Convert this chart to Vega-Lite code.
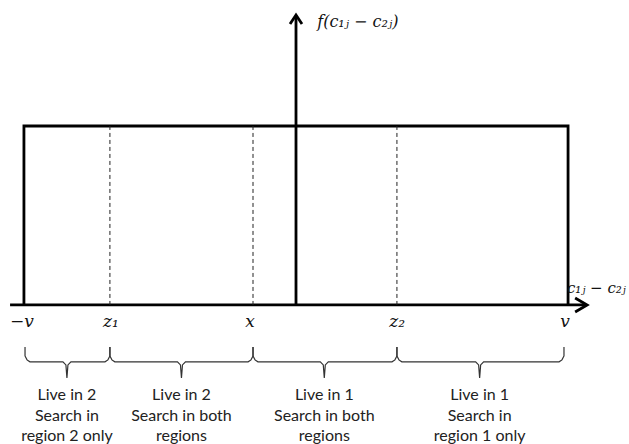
{
  "$schema": "https://vega.github.io/schema/vega-lite/v6.json",
  "width": 629,
  "height": 444,
  "padding": 0,
  "autosize": {"type": "none"},
  "background": "white",
  "config": {"view": {"stroke": null}},
  "encoding": {
    "x": {"field": "x", "type": "quantitative", "scale": {"domain": [-1.088, 1.224], "nice": false, "zero": false}, "axis": null},
    "y": {"field": "y", "type": "quantitative", "scale": {"domain": [-0.777, 1.704], "nice": false, "zero": false}, "axis": null}
  },
  "layer": [
    {
      "data": {"values": [
        {"g": "haxis", "o": 1, "x": -1.051, "y": 0},
        {"g": "haxis", "o": 2, "x": 1.066, "y": 0},
        {"g": "harrow", "o": 1, "x": 1.026, "y": 0.039},
        {"g": "harrow", "o": 2, "x": 1.070, "y": 0},
        {"g": "harrow", "o": 3, "x": 1.026, "y": -0.039},
        {"g": "vaxis", "o": 1, "x": 0, "y": 0},
        {"g": "vaxis", "o": 2, "x": 0, "y": 1.612},
        {"g": "varrow", "o": 1, "x": -0.022, "y": 1.570},
        {"g": "varrow", "o": 2, "x": 0, "y": 1.620},
        {"g": "varrow", "o": 3, "x": 0.022, "y": 1.570},
        {"g": "rect", "o": 1, "x": -1, "y": 0},
        {"g": "rect", "o": 2, "x": -1, "y": 1},
        {"g": "rect", "o": 3, "x": 1, "y": 1},
        {"g": "rect", "o": 4, "x": 1, "y": 0}
      ]},
      "mark": {"type": "line", "color": "black", "strokeWidth": 2.8, "strokeJoin": "miter"},
      "encoding": {
        "detail": {"field": "g", "type": "nominal"},
        "order": {"field": "o", "type": "quantitative"}
      }
    },
    {
      "data": {"values": [
        {"x": -0.684, "y": 0, "y2": 1},
        {"x": -0.158, "y": 0, "y2": 1},
        {"x": 0.371, "y": 0, "y2": 1}
      ]},
      "mark": {"type": "rule", "color": "#222", "strokeWidth": 1, "strokeDash": [4, 3]},
      "encoding": {"y2": {"field": "y2"}}
    },
    {
      "data": {"values": [
        {"g": 1, "o": 1, "x": -0.996, "y": -0.235},
        {"g": 1, "o": 2, "x": -0.996, "y": -0.285},
        {"g": 1, "o": 3, "x": -0.9886, "y": -0.307},
        {"g": 1, "o": 4, "x": -0.978, "y": -0.318},
        {"g": 1, "o": 5, "x": -0.8567, "y": -0.318},
        {"g": 1, "o": 6, "x": -0.8457, "y": -0.335},
        {"g": 1, "o": 7, "x": -0.842, "y": -0.408},
        {"g": 1, "o": 8, "x": -0.8383, "y": -0.335},
        {"g": 1, "o": 9, "x": -0.8273, "y": -0.318},
        {"g": 1, "o": 10, "x": -0.702, "y": -0.318},
        {"g": 1, "o": 11, "x": -0.6914, "y": -0.307},
        {"g": 1, "o": 12, "x": -0.684, "y": -0.285},
        {"g": 1, "o": 13, "x": -0.684, "y": -0.235},
        {"g": 2, "o": 1, "x": -0.684, "y": -0.235},
        {"g": 2, "o": 2, "x": -0.684, "y": -0.285},
        {"g": 2, "o": 3, "x": -0.6766, "y": -0.307},
        {"g": 2, "o": 4, "x": -0.666, "y": -0.318},
        {"g": 2, "o": 5, "x": -0.4357, "y": -0.318},
        {"g": 2, "o": 6, "x": -0.4247, "y": -0.335},
        {"g": 2, "o": 7, "x": -0.421, "y": -0.408},
        {"g": 2, "o": 8, "x": -0.4173, "y": -0.335},
        {"g": 2, "o": 9, "x": -0.4063, "y": -0.318},
        {"g": 2, "o": 10, "x": -0.176, "y": -0.318},
        {"g": 2, "o": 11, "x": -0.1654, "y": -0.307},
        {"g": 2, "o": 12, "x": -0.158, "y": -0.285},
        {"g": 2, "o": 13, "x": -0.158, "y": -0.235},
        {"g": 3, "o": 1, "x": -0.158, "y": -0.235},
        {"g": 3, "o": 2, "x": -0.158, "y": -0.285},
        {"g": 3, "o": 3, "x": -0.1506, "y": -0.307},
        {"g": 3, "o": 4, "x": -0.140, "y": -0.318},
        {"g": 3, "o": 5, "x": 0.0893, "y": -0.318},
        {"g": 3, "o": 6, "x": 0.1003, "y": -0.335},
        {"g": 3, "o": 7, "x": 0.104, "y": -0.408},
        {"g": 3, "o": 8, "x": 0.1077, "y": -0.335},
        {"g": 3, "o": 9, "x": 0.1187, "y": -0.318},
        {"g": 3, "o": 10, "x": 0.353, "y": -0.318},
        {"g": 3, "o": 11, "x": 0.3636, "y": -0.307},
        {"g": 3, "o": 12, "x": 0.371, "y": -0.285},
        {"g": 3, "o": 13, "x": 0.371, "y": -0.235},
        {"g": 4, "o": 1, "x": 0.371, "y": -0.235},
        {"g": 4, "o": 2, "x": 0.371, "y": -0.285},
        {"g": 4, "o": 3, "x": 0.3784, "y": -0.307},
        {"g": 4, "o": 4, "x": 0.389, "y": -0.318},
        {"g": 4, "o": 5, "x": 0.6603, "y": -0.318},
        {"g": 4, "o": 6, "x": 0.6713, "y": -0.335},
        {"g": 4, "o": 7, "x": 0.675, "y": -0.408},
        {"g": 4, "o": 8, "x": 0.6787, "y": -0.335},
        {"g": 4, "o": 9, "x": 0.6897, "y": -0.318},
        {"g": 4, "o": 10, "x": 0.967, "y": -0.318},
        {"g": 4, "o": 11, "x": 0.9776, "y": -0.307},
        {"g": 4, "o": 12, "x": 0.985, "y": -0.285},
        {"g": 4, "o": 13, "x": 0.985, "y": -0.235}
      ]},
      "mark": {"type": "line", "color": "#333", "strokeWidth": 1.2},
      "encoding": {
        "detail": {"field": "g", "type": "nominal"},
        "order": {"field": "o", "type": "quantitative"}
      }
    },
    {
      "data": {"values": [
        {"label": "−v", "x": -1.007, "y": -0.095},
        {"label": "z₁", "x": -0.68, "y": -0.095},
        {"label": "x", "x": -0.169, "y": -0.095},
        {"label": "z₂", "x": 0.372, "y": -0.095},
        {"label": "v", "x": 0.989, "y": -0.095}
      ]},
      "mark": {"type": "text", "font": "DejaVu Serif", "fontStyle": "italic", "fontSize": 17, "color": "#111", "align": "center", "baseline": "middle"},
      "encoding": {"text": {"field": "label"}}
    },
    {
      "data": {"values": [
        {"label": "f(c₁ⱼ − c₂ⱼ)", "x": 0.078, "y": 1.581}
      ]},
      "mark": {"type": "text", "font": "DejaVu Serif", "fontStyle": "italic", "fontSize": 16, "color": "#111", "align": "left", "baseline": "middle"},
      "encoding": {"text": {"field": "label"}}
    },
    {
      "data": {"values": [
        {"label": "c₁ⱼ − c₂ⱼ", "x": 0.996, "y": 0.095}
      ]},
      "mark": {"type": "text", "font": "DejaVu Serif", "fontStyle": "italic", "fontSize": 15, "color": "#111", "align": "left", "baseline": "middle"},
      "encoding": {"text": {"field": "label"}}
    },
    {
      "data": {"values": [
        {"label": "Live in 2", "x": -0.842, "y": -0.503},
        {"label": "Search in", "x": -0.842, "y": -0.620},
        {"label": "region 2 only", "x": -0.842, "y": -0.732},
        {"label": "Live in 2", "x": -0.421, "y": -0.503},
        {"label": "Search in both", "x": -0.421, "y": -0.620},
        {"label": "regions", "x": -0.421, "y": -0.732},
        {"label": "Live in 1", "x": 0.104, "y": -0.503},
        {"label": "Search in both", "x": 0.104, "y": -0.620},
        {"label": "regions", "x": 0.104, "y": -0.732},
        {"label": "Live in 1", "x": 0.675, "y": -0.503},
        {"label": "Search in", "x": 0.675, "y": -0.620},
        {"label": "region 1 only", "x": 0.675, "y": -0.732}
      ]},
      "mark": {"type": "text", "font": "Lato", "fontSize": 16, "color": "#222", "align": "center", "baseline": "middle"},
      "encoding": {"text": {"field": "label"}}
    }
  ]
}
